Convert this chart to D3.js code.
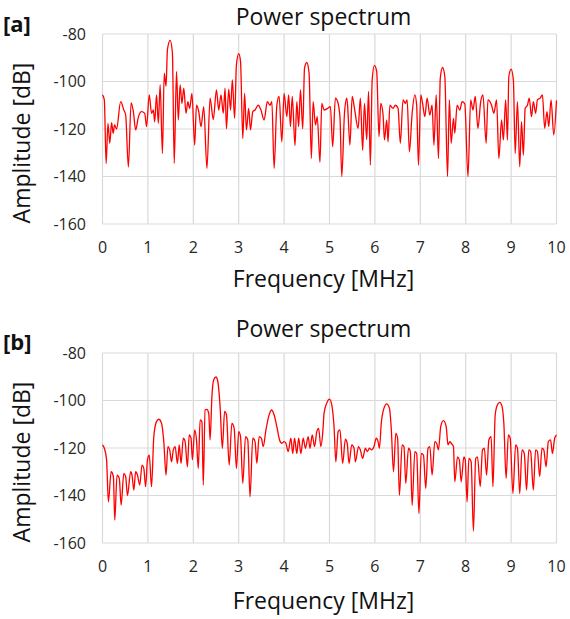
<!DOCTYPE html>
<html lang="en">
<head>
<meta charset="UTF-8">
<title>Power spectrum</title>
<script src="https://d3js.org/d3.v7.min.js"></script>
<style>
  body { margin: 0; background: #fff; }
  svg { display: block; font-family: "Open Sans", sans-serif; }
</style>
</head>
<body>
<script>
// tick values
const xTicks = [0, 1, 2, 3, 4, 5, 6, 7, 8, 9, 10];
const yTicks = [-160, -140, -120, -100, -80];

// panel [a]
const freqA = [0.00,0.04,0.08,0.12,0.16,0.20,0.235,0.265,0.31,0.40,0.47,0.51,0.57,0.63,0.68,0.73,0.79,0.86,0.93,0.97,
  1.03,1.08,1.12,1.15,1.19,1.23,1.27,1.32,1.36,1.40,1.43,1.49,1.54,1.58,1.63,1.67,1.71,1.75,1.79,1.84,1.88,1.92,1.97,
  2.03,2.07,2.12,2.17,2.23,2.30,2.37,2.44,2.51,2.56,2.61,2.66,2.70,2.73,2.78,2.82,2.86,2.91,2.95,
  3.00,3.04,3.09,3.13,3.17,3.22,3.26,3.31,3.36,3.43,3.49,3.56,3.63,3.69,3.73,3.78,3.84,3.89,3.95,
  4.00,4.06,4.10,4.14,4.18,4.24,4.28,4.32,4.36,4.41,4.45,4.50,4.55,4.60,4.64,4.69,4.73,4.79,4.83,4.88,4.96,
  5.02,5.07,5.13,5.18,5.23,5.27,5.33,5.38,5.40,5.45,5.50,5.55,5.63,5.68,5.73,5.77,5.82,5.86,5.90,5.94,5.99,
  6.04,6.09,6.13,6.18,6.21,6.26,6.29,6.33,6.40,6.45,6.51,6.56,6.62,6.67,6.71,6.76,6.82,6.88,6.92,6.96,
  7.01,7.05,7.10,7.15,7.21,7.26,7.30,7.35,7.40,7.44,7.49,7.54,7.60,7.64,7.68,7.73,7.76,7.81,7.87,7.92,7.98,
  8.05,8.11,8.16,8.21,8.27,8.33,8.38,8.45,8.49,8.57,8.62,8.68,8.73,8.79,8.83,8.88,8.92,8.95,
  9.00,9.05,9.09,9.14,9.19,9.23,9.27,9.31,9.36,9.40,9.45,9.49,9.54,9.58,9.64,9.69,9.74,9.79,9.83,9.88,9.94,10.0];
const ampA = [-105.6,-107.7,-134.5,-117.6,-126,-117.3,-121.8,-118.3,-120,-108.5,-112,-114,-136,-109,-112.7,-120.4,-115,-112.7,-113.4,-119,
  -105.6,-113.4,-112,-117,-105.6,-117.6,-101.4,-130.3,-96.5,-102,-86.6,-82.7,-88,-134.5,-95.8,-116.2,-101.4,-109.2,-102.8,-113.4,-108.5,-111.3,-105,
  -126.8,-110,-112.7,-119,-110.6,-136.6,-107,-116,-103.5,-112,-105.6,-113.4,-102.8,-119.9,-103.2,-112,-99.3,-115.5,-93,
  -88.3,-91.5,-124,-105,-120.4,-111.3,-120.4,-112.7,-112,-110,-112,-116.2,-108.5,-110,-108.5,-136.6,-110,-106.3,-125.4,
  -105,-114.8,-105.6,-119,-106.3,-127,-108.5,-119,-103.5,-119.9,-94.4,-92,-96.5,-132.4,-108.5,-118.3,-114.8,-134,-109.2,-112,-111.3,
  -110.6,-127.5,-107,-108.5,-114.8,-140,-113.4,-107,-110.6,-126.8,-106.3,-111.3,-119.7,-107,-129,-109.2,-124.4,-104.2,-135.2,-99.3,-93.2,
  -95.8,-123.2,-109.2,-114.1,-124.6,-116.2,-125.4,-110,-111.3,-110,-111.3,-126,-107.7,-109.2,-107.7,-129.6,-113.4,-105.6,-110,-135.2,
  -105.6,-109.2,-114.8,-107,-114.1,-110,-126.8,-105.6,-132.4,-98.6,-94.1,-97.9,-140,-107.7,-126,-115.5,-121.8,-110,-112,-108.5,-109.4,
  -140,-107.7,-112,-106.3,-119.7,-108.5,-105.6,-126,-107.7,-110,-113.4,-107.7,-132.4,-116.2,-124.6,-107.7,-124.6,-97.9,
  -94.8,-99.3,-130.3,-108.5,-135.9,-116.9,-131,-111.3,-110,-107,-114.8,-108.5,-113.4,-107.7,-107,-105.6,-119.7,-112.7,-119,-107.7,-122.5,-108];

// panel [b]
const freqB = [0.00,0.04,0.09,0.13,0.19,0.24,0.27,0.32,0.37,0.41,0.47,0.51,0.55,0.62,0.65,0.69,0.73,0.77,0.82,0.87,0.91,0.95,0.99,
  1.03,1.08,1.13,1.19,1.24,1.30,1.35,1.40,1.44,1.48,1.52,1.56,1.60,1.65,1.69,1.73,1.78,1.82,1.87,1.91,1.95,1.98,
  2.03,2.07,2.11,2.15,2.19,2.22,2.26,2.30,2.34,2.37,2.41,2.45,2.50,2.54,2.59,2.64,2.69,2.73,2.79,2.85,2.90,2.95,
  3.00,3.04,3.09,3.15,3.20,3.25,3.31,3.36,3.40,3.45,3.50,3.54,3.60,3.66,3.72,3.78,3.84,3.90,3.95,
  4.00,4.04,4.09,4.15,4.19,4.23,4.28,4.32,4.37,4.42,4.47,4.53,4.57,4.62,4.67,4.72,4.76,4.81,4.85,4.88,4.94,
  5.00,5.05,5.10,5.14,5.19,5.23,5.29,5.35,5.39,5.43,5.49,5.54,5.57,5.64,5.68,5.73,5.79,5.83,5.88,5.93,5.98,
  6.03,6.07,6.10,6.14,6.20,6.26,6.32,6.36,6.41,6.46,6.50,6.54,6.60,6.64,6.68,6.74,6.78,6.82,6.88,6.92,6.97,
  7.02,7.07,7.12,7.17,7.21,7.26,7.32,7.36,7.40,7.45,7.51,7.57,7.61,7.65,7.68,7.73,7.76,7.82,7.86,7.90,7.96,7.99,
  8.03,8.07,8.12,8.17,8.22,8.26,8.32,8.37,8.41,8.46,8.51,8.56,8.60,8.65,8.70,8.75,8.80,8.84,8.89,8.94,8.98,
  9.04,9.10,9.14,9.19,9.24,9.29,9.34,9.39,9.43,9.49,9.54,9.58,9.63,9.68,9.72,9.77,9.82,9.87,9.91,9.96,10.0];
const ampB = [-118.7,-120.1,-125,-142.7,-130,-132,-150.4,-131.4,-132.8,-144,-130.7,-132,-140,-130,-131.4,-137.7,-130,-131.4,-135.6,-127.2,-128.6,-136.3,-125,
  -123,-136.3,-115.2,-108.9,-107.9,-109.6,-117.3,-131.4,-119.4,-120.8,-125.8,-120.8,-119.4,-126.5,-118.7,-126.5,-115.9,-117.3,-127.9,-114.5,-115.9,-125,
  -112.4,-116.6,-128.6,-108.2,-108.9,-135.6,-104,-103.7,-105.4,-116.6,-98.3,-91.3,-90.1,-92,-102.5,-120.1,-104.6,-106,-127.2,-109.6,-111.7,-128.6,
  -113.1,-115.2,-134.9,-115.2,-116.6,-140.6,-115.9,-117.3,-126.5,-115.2,-115.9,-119.4,-112.4,-106.8,-104,-106,-111,-116.6,-118,
  -117.3,-118,-121.5,-115.9,-122.3,-115.9,-122.3,-115.9,-122.3,-115.9,-120.1,-115.2,-120.1,-114.5,-119.4,-113.1,-111.7,-119.4,-113.8,-105.4,-101.1,
  -99.4,-101.8,-111,-125.8,-113.1,-112.4,-126.5,-116.3,-118,-126.5,-118.7,-120.1,-125.8,-119.4,-120.8,-124.4,-120.1,-121.5,-120.1,-120.8,-119.4,
  -115.9,-117.3,-120.1,-109.6,-103.2,-101.4,-103.2,-111.7,-130,-113.8,-115.9,-139.9,-118.7,-119.4,-134.9,-120.1,-121.5,-144.1,-121.5,-122.3,-147.6,
  -122.3,-123,-137,-120.1,-119.4,-131.4,-117.3,-118,-120.8,-111,-108.5,-111,-118.7,-117.3,-118,-119.4,-134.2,-123.7,-125,-134.2,-123.7,-125,
  -142.7,-124.4,-125.8,-155,-124.4,-123.7,-136.3,-120.8,-120.1,-131.4,-116.6,-115.2,-136.3,-106,-101.8,-100.8,-102.5,-109.6,-132.8,-114.5,-115.9,
  -139.2,-118.7,-120.1,-139.2,-120.8,-122.3,-137.7,-120.8,-121.5,-137.7,-120.8,-121.5,-132,-120.1,-120.8,-127.9,-117.3,-116.6,-122.3,-115.9,-114.5];

const width = 570, height = 619;
const left = 102.5, right = 556.5;

const svg = d3.select("body").append("svg")
    .attr("width", width)
    .attr("height", height);

svg.append("rect").attr("width", width).attr("height", height).attr("fill", "#fff");

function drawPanel(p) {
    const x = d3.scaleLinear().domain([0, 10]).range([left, right]);
    const y = d3.scaleLinear().domain([-160, -80]).range([p.bottom, p.top]);
    const g = svg.append("g");

    // grid
    g.selectAll(".vgrid").data(xTicks).enter().append("line")
        .attr("x1", d => x(d)).attr("x2", d => x(d))
        .attr("y1", p.top).attr("y2", p.bottom)
        .attr("stroke", "#d9d9d9").attr("stroke-width", 1.2);
    g.selectAll(".hgrid").data(yTicks).enter().append("line")
        .attr("x1", left).attr("x2", right)
        .attr("y1", d => y(d)).attr("y2", d => y(d))
        .attr("stroke", "#d9d9d9").attr("stroke-width", 1.2);

    // tick labels
    g.selectAll(".ylab").data(yTicks).enter().append("text")
        .attr("x", 86).attr("y", d => y(d)).attr("dy", "0.36em")
        .attr("text-anchor", "end")
        .style("font-size", "16px").attr("fill", "#262626")
        .text(d => d);
    g.selectAll(".xlab").data(xTicks).enter().append("text")
        .attr("x", d => x(d)).attr("y", p.bottom + 29)
        .attr("text-anchor", "middle")
        .style("font-size", "16px").attr("fill", "#262626")
        .text(d => d);

    // the spectrum
    const pts = p.freq.map((f, i) => [f, p.amp[i]]);
    g.append("path")
        .datum(pts)
        .attr("fill", "none")
        .attr("stroke", "#ff0000")
        .attr("stroke-width", 1.3)
        .attr("stroke-linejoin", "round")
        .attr("d", d3.line().x(d => x(d[0])).y(d => y(d[1])).curve(d3.curveMonotoneX));

    // titles
    g.append("text")
        .attr("x", 323.5).attr("y", p.titleY)
        .attr("text-anchor", "middle")
        .style("font-size", "23px").attr("fill", "#111")
        .text("Power spectrum");
    g.append("text")
        .attr("x", 323.5).attr("y", p.xLabelY)
        .attr("text-anchor", "middle")
        .style("font-size", "23px").attr("fill", "#111")
        .text("Frequency [MHz]");
    g.append("text")
        .attr("transform", "translate(30," + p.yLabelC + ")rotate(-90)")
        .attr("text-anchor", "middle")
        .style("font-size", "23px").attr("fill", "#111")
        .text("Amplitude [dB]");
    g.append("text")
        .attr("x", 3).attr("y", p.tagY)
        .style("font-size", "22px").style("font-weight", "bold").attr("fill", "#111")
        .text(p.tag);
}

drawPanel({ tag: "[a]", top: 34, bottom: 224, titleY: 25, xLabelY: 287, yLabelC: 143, tagY: 32, freq: freqA, amp: ampA });
drawPanel({ tag: "[b]", top: 353, bottom: 543, titleY: 337, xLabelY: 609, yLabelC: 462, tagY: 350, freq: freqB, amp: ampB });
</script>
</body>
</html>
